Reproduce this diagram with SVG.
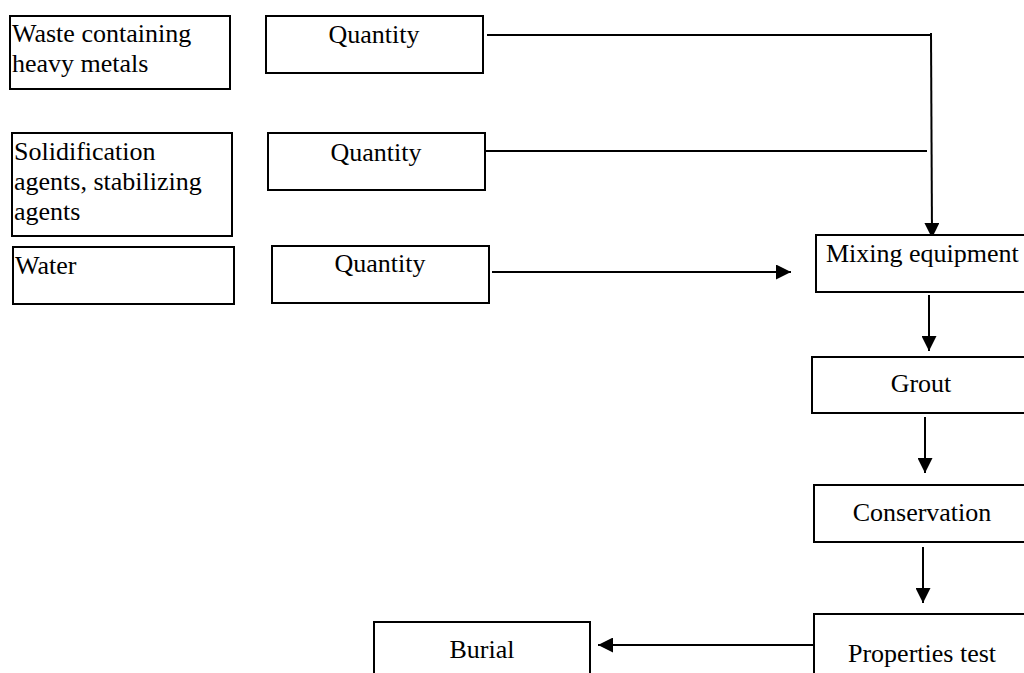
<svg xmlns="http://www.w3.org/2000/svg" width="1024" height="673" viewBox="0 0 1024 673">
<style>
.box{fill:#fff;stroke:#000;stroke-width:2}
.t{font-family:"Liberation Serif","Times New Roman",serif;font-size:26px;fill:#000}
.c{text-anchor:middle}
.ln{fill:none;stroke:#000;stroke-width:2}
</style>
<defs>
<marker id="ah" markerUnits="userSpaceOnUse" markerWidth="15" markerHeight="15" refX="15" refY="7.5" orient="auto">
<path d="M0,0 L15,7.5 L0,15 z" fill="#000"/>
</marker>
</defs>
<rect width="1024" height="673" fill="#fff"/>
<g id="connectors">
<line class="ln" x1="487" y1="35" x2="930" y2="35"/>
<line class="ln" x1="931" y1="33" x2="932" y2="238" marker-end="url(#ah)"/>
<line class="ln" x1="485" y1="151" x2="927" y2="151"/>
<line class="ln" x1="492" y1="272" x2="791" y2="272" marker-end="url(#ah)"/>
<line class="ln" x1="929" y1="295" x2="929" y2="351" marker-end="url(#ah)"/>
<line class="ln" x1="925" y1="417" x2="925" y2="473" marker-end="url(#ah)"/>
<line class="ln" x1="923" y1="547" x2="923" y2="603" marker-end="url(#ah)"/>
<line class="ln" x1="814" y1="645" x2="598" y2="645" marker-end="url(#ah)"/>
</g>
<g id="waste">
<rect class="box" x="10" y="16" width="220" height="73"/>
<text class="t" x="12" y="42">Waste containing</text>
<text class="t" x="12" y="72">heavy metals</text>
</g>
<g id="qty1">
<rect class="box" x="266" y="16" width="217" height="57"/>
<text class="t c" x="374" y="43">Quantity</text>
</g>
<g id="agents">
<rect class="box" x="12" y="133" width="220" height="103"/>
<text class="t" x="14" y="160">Solidification</text>
<text class="t" x="14" y="190">agents, stabilizing</text>
<text class="t" x="14" y="220">agents</text>
</g>
<g id="qty2">
<rect class="box" x="268" y="133" width="217" height="57"/>
<text class="t c" x="376" y="161">Quantity</text>
</g>
<g id="water">
<rect class="box" x="13" y="247" width="221" height="57"/>
<text class="t" x="15" y="274">Water</text>
</g>
<g id="qty3">
<rect class="box" x="272" y="246" width="217" height="57"/>
<text class="t c" x="380" y="272">Quantity</text>
</g>
<g id="mixing">
<rect class="box" x="816" y="235" width="220" height="57"/>
<text class="t" x="826" y="262">Mixing equipment</text>
</g>
<g id="grout">
<rect class="box" x="812" y="357" width="220" height="56"/>
<text class="t c" x="921" y="392">Grout</text>
</g>
<g id="conservation">
<rect class="box" x="814" y="485" width="220" height="57"/>
<text class="t c" x="922" y="521">Conservation</text>
</g>
<g id="properties">
<rect class="box" x="814" y="614" width="220" height="80"/>
<text class="t c" x="922" y="662">Properties test</text>
</g>
<g id="burial">
<rect class="box" x="374" y="622" width="216" height="70"/>
<text class="t c" x="482" y="658">Burial</text>
</g>
</svg>
